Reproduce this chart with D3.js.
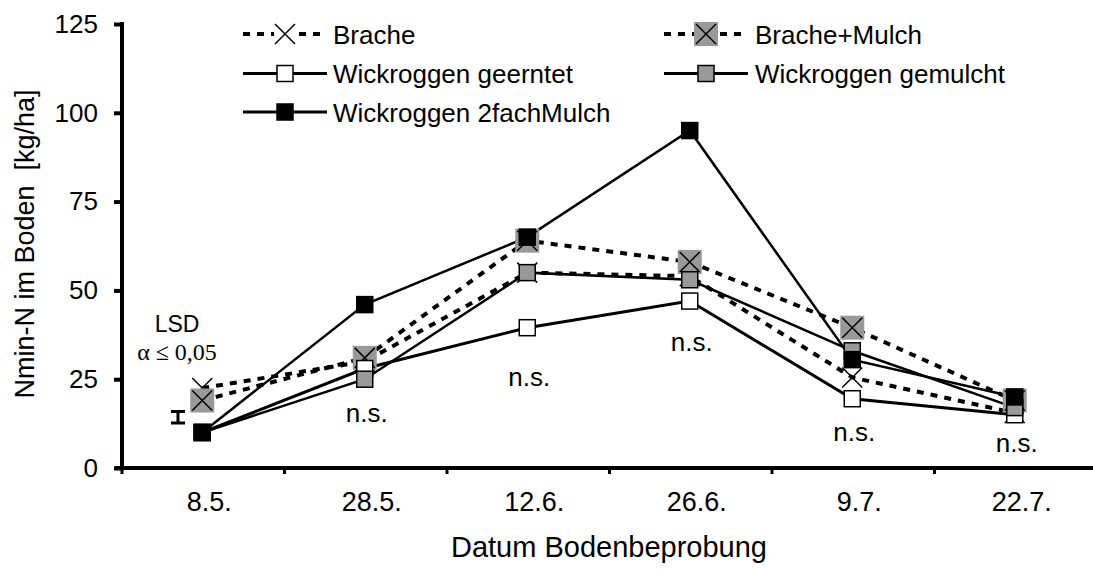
<!DOCTYPE html>
<html>
<head>
<meta charset="utf-8">
<script src="https://cdn.jsdelivr.net/npm/d3@7"></script>
<style>
  body { margin: 0; background: #fff; }
  text { font-family: "Liberation Sans", Arial, sans-serif; fill: #000; }
</style>
</head>
<body>
<div id="chart"></div>
<script>
// sampling dates and N-min values (kg/ha)
const dates = ["8.5.", "28.5.", "12.6.", "26.6.", "9.7.", "22.7."];
const yTicks = [0, 25, 50, 75, 100, 125];

const brache      = [22.5, 30, 55, 54, 25.5, 15.5];
const bracheMulch = [19, 31, 64, 58, 39.5, 19];
const geerntet    = [10, 28, 39.5, 47, 19.5, 15];
const gemulcht    = [10, 25, 55, 53, 33, 17];
const zweifach    = [10, 46, 65, 95, 30.5, 20];

const seriesNames = ["Brache", "Brache+Mulch", "Wickroggen geerntet", "Wickroggen gemulcht", "Wickroggen 2fachMulch"];

// LSD bar at the first date, and the "n.s." notes (baseline in axis units)
const lsd = { center: 14.3, half: 1.6 };
const nsDates = ["28.5.", "12.6.", "26.6.", "9.7.", "22.7."];
const nsValues = [13, 23.1, 32.9, 7.6, 4.5];

const W = 1093, H = 570;
const svg = d3.select("#chart").append("svg")
  .attr("width", W).attr("height", H);

const x = d3.scaleBand().domain(dates).range([122, 1097]).padding(0);
const y = d3.scaleLinear().domain([0, 125]).range([468, 24]);
const cx = d => x(d) + x.bandwidth() / 2 - 1;

// y axis
const yAxis = svg.append("g")
  .attr("transform", "translate(122,0)")
  .call(d3.axisLeft(y).tickValues(yTicks).tickSize(8).tickPadding(16));
yAxis.select(".domain").attr("stroke-width", 4).attr("d", "M0," + (y(125) - 2) + "V" + y(0));
yAxis.selectAll(".tick line").attr("stroke-width", 4);
yAxis.selectAll(".tick text")
  .style("font-size", "26px").style("font-family", "Liberation Sans, Arial, sans-serif");

// x axis
const xAxis = svg.append("g")
  .attr("transform", "translate(0,468)")
  .call(d3.axisBottom(x).tickSize(0));
xAxis.select(".domain").attr("stroke-width", 4).attr("d", "M115,0H1093");
xAxis.selectAll(".tick text")
  .attr("y", 43).attr("dy", 0).attr("dx", 6)
  .style("font-size", "27px").style("font-family", "Liberation Sans, Arial, sans-serif");
xAxis.selectAll(".bound")
  .data(dates)
  .enter().append("line")
  .attr("x1", d => x(d)).attr("x2", d => x(d))
  .attr("y1", 0).attr("y2", 6)
  .attr("stroke", "#000").attr("stroke-width", 3);

// axis titles
svg.append("text")
  .attr("transform", "translate(34,244) rotate(-90)")
  .attr("text-anchor", "middle")
  .attr("xml:space", "preserve")
  .style("font-size", "27px")
  .text("Nmin-N im Boden  [kg/ha]");
svg.append("text")
  .attr("x", 609).attr("y", 557)
  .attr("text-anchor", "middle")
  .style("font-size", "29px")
  .text("Datum Bodenbeprobung");

// series styles
const series = [
  { name: seriesNames[0], values: brache,      dash: "7,7", width: 4,   marker: "x" },
  { name: seriesNames[1], values: bracheMulch, dash: "7,7", width: 4,   marker: "xbox" },
  { name: seriesNames[2], values: geerntet,    dash: null,  width: 3,   marker: "sq", fill: "#fff" },
  { name: seriesNames[3], values: gemulcht,    dash: null,  width: 2.5, marker: "sq", fill: "#999" },
  { name: seriesNames[4], values: zweifach,    dash: null,  width: 2.5, marker: "sq", fill: "#000" }
];

const line = d3.line().x(d => cx(d.date)).y(d => y(d.v));

function drawMarker(g, type, fill) {
  if (type === "x") {
    g.append("path").attr("d", "M-10,-10L10,10M-10,10L10,-10")
      .attr("stroke", "#000").attr("stroke-width", 1.5).attr("fill", "none");
  } else if (type === "xbox") {
    g.append("rect").attr("x", -12).attr("y", -12).attr("width", 24).attr("height", 24)
      .attr("fill", "#999");
    g.append("path").attr("d", "M-10,-10L10,10M-10,10L10,-10")
      .attr("stroke", "#000").attr("stroke-width", 1.5).attr("fill", "none");
  } else {
    g.append("rect").attr("x", -8).attr("y", -8).attr("width", 16).attr("height", 16)
      .attr("fill", fill).attr("stroke", "#000").attr("stroke-width", 1.5);
  }
}

series.forEach(s => {
  const pts = dates.map((d, i) => ({ date: d, v: s.values[i] }));
  svg.append("path").datum(pts)
    .attr("d", line)
    .attr("fill", "none")
    .attr("stroke", "#000")
    .attr("stroke-width", s.width)
    .attr("stroke-dasharray", s.dash);
});
series.forEach(s => {
  dates.forEach((d, i) => {
    const g = svg.append("g").attr("transform", `translate(${cx(d)},${y(s.values[i])})`);
    drawMarker(g, s.marker, s.fill);
  });
});

// legend
const legendPos = [
  { x: 243, y: 34 }, { x: 664, y: 34 },
  { x: 243, y: 73.5 }, { x: 664, y: 73.5 },
  { x: 243, y: 112 }
];
series.forEach((s, i) => {
  const p = legendPos[i];
  const g = svg.append("g").attr("transform", `translate(${p.x},${p.y})`);
  g.append("line").attr("x1", 0).attr("x2", 84).attr("y1", 0).attr("y2", 0)
    .attr("stroke", "#000").attr("stroke-width", s.dash ? 4 : 3)
    .attr("stroke-dasharray", s.dash);
  const m = g.append("g").attr("transform", "translate(42,0)");
  if (s.marker === "x") m.append("rect").attr("x", -11).attr("y", -11).attr("width", 22).attr("height", 22).attr("fill", "#fff");
  drawMarker(m, s.marker, s.fill);
  g.append("text").attr("x", i % 2 ? 91 : 90).attr("y", 9.5).style("font-size", "26px").text(s.name);
});

// LSD bar
const lx = 178;
svg.append("path")
  .attr("d", `M${lx - 7},${y(lsd.center + lsd.half)}H${lx + 7}M${lx},${y(lsd.center + lsd.half)}V${y(lsd.center - lsd.half)}M${lx - 7},${y(lsd.center - lsd.half)}H${lx + 7}`)
  .attr("stroke", "#000").attr("stroke-width", 3).attr("fill", "none");
svg.append("text").attr("x", 177).attr("y", 332).attr("text-anchor", "middle")
  .style("font-size", "23px").text("LSD");
svg.append("text").attr("x", 177).attr("y", 360).attr("text-anchor", "middle")
  .style("font-size", "24px").style("font-family", "Liberation Serif, Times New Roman, serif")
  .text("α ≤ 0,05");

// n.s. notes
nsDates.forEach((d, i) => {
  svg.append("text").attr("x", cx(d) + 2).attr("y", y(nsValues[i]))
    .attr("text-anchor", "middle").style("font-size", "26px").text("n.s.");
});
</script>
</body>
</html>
